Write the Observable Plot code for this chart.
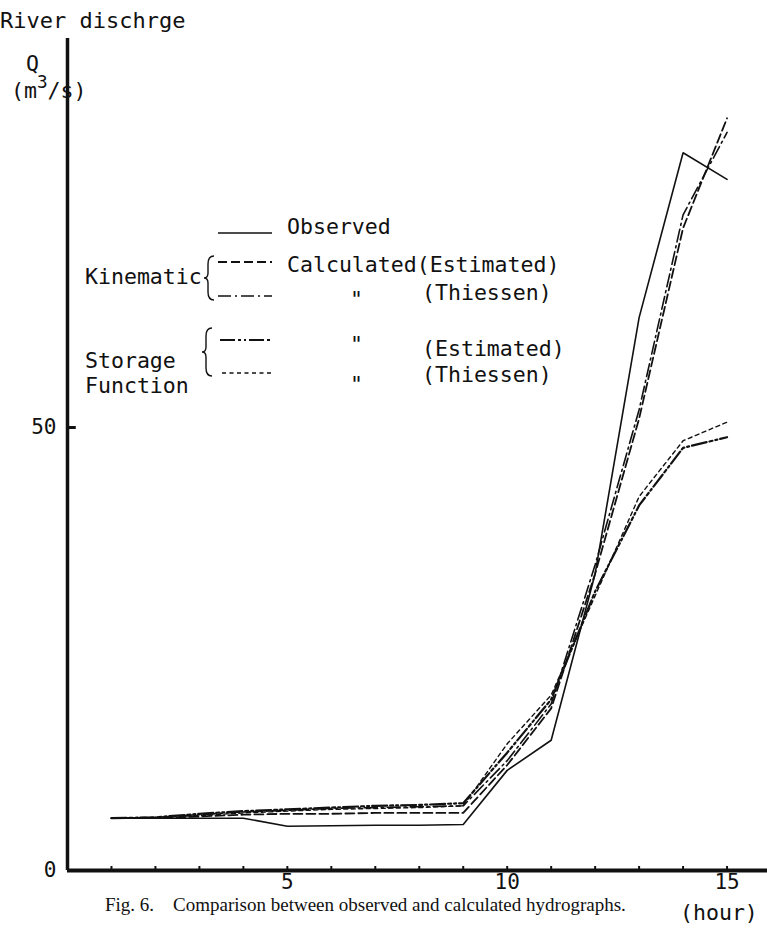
<!DOCTYPE html>
<html>
<head>
<meta charset="utf-8">
<script src="https://cdn.jsdelivr.net/npm/d3@7"></script>
<script src="https://cdn.jsdelivr.net/npm/@observablehq/plot@0.6"></script>
<style>
  html, body { margin: 0; padding: 0; background: #fff; }
  #wrap { position: relative; width: 767px; height: 929px; overflow: hidden; }
  #over { position: absolute; left: 0; top: 0; pointer-events: none; }
  .mono { font-family: "DejaVu Sans Mono", monospace; font-size: 22px; fill: #111; }
  .serif { font-family: "Liberation Serif", "DejaVu Serif", serif; font-size: 19px; fill: #111; }
</style>
</head>
<body>
<div id="wrap"></div>
<script>
// ---- data ----
const hours = [1, 2, 3, 4, 5, 6, 7, 8, 9, 10, 11, 12, 13, 14, 15];
const observed = [5.9, 5.9, 5.9, 5.9, 5.0, 5.05, 5.1, 5.1, 5.2, 11.3, 14.7, 33.5, 62.4, 81.0, 78.0];
const kinematicEstimated = [5.9, 5.9, 6.1, 6.3, 6.4, 6.4, 6.5, 6.5, 6.5, 11.9, 18.3, 33.5, 51.0, 72.5, 84.9];
const kinematicThiessen = [5.9, 6.0, 6.3, 6.6, 6.8, 7.0, 7.1, 7.2, 7.3, 12.4, 18.8, 34.5, 52.0, 74.0, 83.3];
const storageEstimated = [5.9, 6.0, 6.4, 6.7, 6.9, 7.1, 7.3, 7.4, 7.6, 13.3, 19.3, 31.5, 41.2, 47.7, 48.9];
const storageThiessen = [5.9, 6.0, 6.2, 6.5, 6.7, 6.9, 7.0, 7.1, 7.3, 14.3, 19.8, 31.0, 42.2, 48.5, 50.6];
const xTickLabels = [5, 10, 15];
const yTickLabels = [0, 50];

// ---- styles ----
const styles = {
  observed: {stroke: "#111", strokeWidth: 1.6, strokeDasharray: null},
  kinEst: {stroke: "#111", strokeWidth: 1.8, strokeDasharray: "9,4"},
  kinThi: {stroke: "#111", strokeWidth: 1.6, strokeDasharray: "13,4,2,4"},
  sfEst: {stroke: "#111", strokeWidth: 2.2, strokeDasharray: "15,3,3,3,2,3"},
  sfThi: {stroke: "#111", strokeWidth: 1.4, strokeDasharray: "4,3.5"}
};

function rows(values) { return hours.map((h, i) => ({hour: h, q: values[i]})); }
function lineMark(values, st) {
  return Plot.line(rows(values), {x: "hour", y: "q", stroke: st.stroke, strokeWidth: st.strokeWidth,
    strokeDasharray: st.strokeDasharray, strokeLinejoin: "miter"});
}

const chart = Plot.plot({
  width: 767,
  height: 929,
  marginLeft: 67,
  marginRight: 0,
  marginTop: 38,
  marginBottom: 59,
  style: {background: "#fff", color: "#111", fontFamily: "DejaVu Sans Mono, monospace", fontSize: "21px", overflow: "visible"},
  x: {domain: [0, 15.92]},
  y: {domain: [0, 93.9]},
  marks: [
    Plot.axisX({ticks: xTickLabels, tickSize: 0, tickPadding: 4, fontSize: 21, label: null}),
    Plot.axisY({ticks: yTickLabels, tickSize: 0, tickPadding: 11, fontSize: 21, label: null}),
    Plot.ruleX(hours, {x: d => d, y1: 0, y2: 0.45, strokeWidth: 2, stroke: "#111"}),
    Plot.ruleY([50], {y: d => d, x1: 0, x2: 0.2, strokeWidth: 3, stroke: "#111"}),
    lineMark(observed, styles.observed),
    lineMark(kinematicEstimated, styles.kinEst),
    lineMark(kinematicThiessen, styles.kinThi),
    lineMark(storageEstimated, styles.sfEst),
    lineMark(storageThiessen, styles.sfThi),
    Plot.ruleX([0], {x: d => d, strokeWidth: 3.5, stroke: "#111"}),
    Plot.ruleY([0], {y: d => d, strokeWidth: 4, stroke: "#111"})
  ]
});
document.getElementById("wrap").appendChild(chart);

// ---- overlay: titles, legend, caption ----
const ns = "http://www.w3.org/2000/svg";
const over = d3.select("#wrap").append("svg").attr("id", "over")
  .attr("width", 767).attr("height", 929).attr("xmlns", ns);

function mono(x, y, str, sx = 0.98) {
  return over.append("text").attr("class", "mono")
    .attr("transform", `translate(${x},${y}) scale(${sx},1)`).text(str);
}
mono(0, 28, "River dischrge", 1.0);
mono(26, 71, "Q");
const unit = over.append("text").attr("class", "mono").attr("transform", "translate(11,98) scale(0.98,1)");
unit.append("tspan").text("(m");
unit.append("tspan").attr("dy", -10).attr("font-size", 18).text("3");
unit.append("tspan").attr("dy", 10).text("/s)");

// legend samples
function sample(x1, x2, y, st) {
  over.append("line").attr("x1", x1).attr("x2", x2).attr("y1", y).attr("y2", y)
    .attr("stroke", st.stroke).attr("stroke-width", st.strokeWidth)
    .attr("stroke-dasharray", st.strokeDasharray);
}
sample(218, 272, 233, styles.observed);
sample(218, 272, 262, styles.kinEst);
sample(218, 272, 296, styles.kinThi);
sample(220, 270, 340, styles.sfEst);
sample(222, 272, 373, styles.sfThi);

mono(287, 234, "Observed");
mono(85, 284, "Kinematic");
mono(287, 272, "Calculated(Estimated)");
mono(350, 307, "\"");
mono(422, 300, "(Thiessen)");
mono(350, 352, "\"");
mono(422, 356, "(Estimated)");
mono(85, 368, "Storage");
mono(85, 393, "Function");
mono(350, 392, "\"");
mono(422, 382, "(Thiessen)");

// braces
function brace(x, y1, y2) {
  const m = (y1 + y2) / 2, w = 8;
  over.append("path")
    .attr("d", `M${x + w},${y1} Q${x + 2},${y1} ${x + 2},${y1 + 8} L${x + 2},${m - 5} Q${x + 2},${m} ${x - 2},${m} Q${x + 2},${m} ${x + 2},${m + 5} L${x + 2},${y2 - 8} Q${x + 2},${y2} ${x + w},${y2}`)
    .attr("fill", "none").attr("stroke", "#111").attr("stroke-width", 1.4);
}
brace(206, 256, 300);
brace(204, 328, 376);

mono(680, 920, "(hour)");
over.append("text").attr("class", "serif").attr("x", 105).attr("y", 911)
  .attr("xml:space", "preserve").style("white-space", "pre")
  .text("Fig. 6.    Comparison between observed and calculated hydrographs.");
</script>
</body>
</html>
